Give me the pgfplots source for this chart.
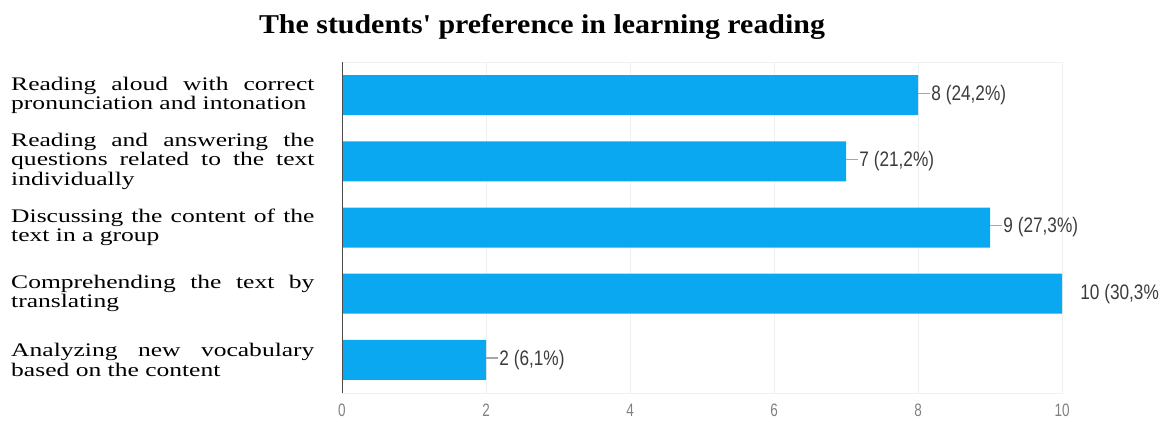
\documentclass[border=0pt]{standalone}
\usepackage{pgfplots}
\pgfplotsset{compat=1.18}
\usepackage{fontspec}
\setmainfont{Liberation Serif}
\setsansfont{Liberation Sans}
\definecolor{barblue}{RGB}{10,168,240}
\definecolor{lblgray}{RGB}{60,60,60}
\newcommand{\lbl}[1]{{\color{gray!70}\rule[0.32em]{7pt}{0.6pt}}\hspace{1pt}#1}

\begin{document}
\begin{tikzpicture}
\node[font=\bfseries\fontsize{13.6}{15}\selectfont, xscale=1.1] at (271pt,-13.5pt)
  {The students\textquotesingle{} preference in learning reading};
\begin{axis}[
  at={(171pt,-196.5pt)}, anchor=south west,
  scale only axis, width=360pt, height=165.5pt,
  xbar, bar width=20pt,
  xmin=0, xmax=10, ymin=-0.5, ymax=4.5,
  y dir=reverse,
  ytick={0,1,2,3,4},
  yticklabels={
    {Reading aloud with correct\linebreak pronunciation and intonation},
    {Reading and answering the\linebreak questions related to the text\linebreak individually},
    {Discussing the content of the\linebreak text in a group},
    {Comprehending the text by\linebreak translating},
    {Analyzing new vocabulary\linebreak based on the content}},
  yticklabel style={font=\fontsize{9.6}{9.6}\selectfont, text width=114pt,
    align=justify, inner sep=0pt, anchor=east, xshift=-13.5pt, xscale=1.33},
  xtick={0,2,...,10},
  xticklabel style={font=\sffamily\fontsize{9}{10}\selectfont, text=gray,
    inner sep=0pt, yshift=-5.5pt, xscale=0.75},
  /pgf/number format/assume math mode=true,
  major tick length=0pt,
  xmajorgrids, grid style={gray!12},
  axis line style={gray!12},
  point meta=explicit symbolic,
  nodes near coords,
  every node near coord/.append style={anchor=west, inner sep=0pt,
    font=\sffamily\fontsize{10.5}{11}\selectfont, text=lblgray, xscale=0.82},
]
\addplot[fill=barblue, draw=none] coordinates {
  (8,0) [\lbl{8 (24,2\%)}]
  (7,1) [\lbl{7 (21,2\%)}]
  (9,2) [\lbl{9 (27,3\%)}]
  (10,3) [\hspace{11pt}10 (30,3\%)]
  (2,4) [\lbl{2 (6,1\%)}]
};
\draw[gray!60!black, line width=0.8pt] (rel axis cs:0,0) -- (rel axis cs:0,1);
\end{axis}
\pgfresetboundingbox
\useasboundingbox (0,0) rectangle (579.5pt,-210.5pt);
\end{tikzpicture}
\end{document}
